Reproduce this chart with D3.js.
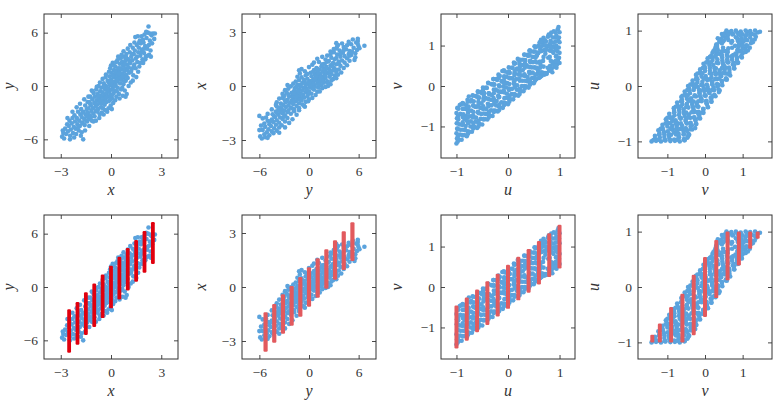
<!DOCTYPE html>
<html>
<head>
<meta charset="utf-8">
<script src="https://cdn.jsdelivr.net/npm/d3@7"></script>
<style>
  html, body { margin: 0; padding: 0; background: #fff; }
  svg { display: block; }
  svg text { font-family: "Liberation Serif", "DejaVu Serif", serif; }
</style>
</head>
<body>
<div id="chart"></div>
<script>
// scatter samples (x, y)
const xyPoints = [
  [-2.92,-5.7],[-2.85,-5.3],[-2.8,-5.9],[-2.74,-4.8],[-2.68,-5.4],[-2.62,-4.3],[-2.88,-5.0],
  [-2.57,-5.1],[-2.52,-4.5],[-2.48,-3.9],[-2.44,-5.6],[-2.4,-4.9],[-2.35,-4.2],[-2.3,-3.6],[-2.27,-5.3],[-2.22,-4.6],
  [-2.18,-3.3],[-2.15,-4.0],[-2.12,-4.8],[-2.08,-5.4],[-2.04,-3.6],[-2.0,-4.3],[-1.97,-2.9],[-1.93,-5.0],[-1.9,-3.9],[-1.86,-4.5],[-1.83,-3.2],[-1.8,-5.6],
  [-1.78,-2.6],[-1.75,-3.5],[-1.72,-4.1],[-1.69,-4.2],[-1.66,-6.0],[-1.63,-2.9],[-1.6,-3.7],[-1.57,-4.4],[-1.54,-2.2],[-1.51,-3.2],[-1.48,-3.9],[-1.45,-2.6],[-1.42,-4.0],[-1.4,-1.8],
  [-1.38,-3.0],[-1.35,-2.5],[-1.32,-3.7],[-1.29,-1.8],[-1.26,-3.3],[-1.23,-1.2],[-1.2,-2.2],[-1.17,-2.8],[-1.14,-3.9],[-1.11,-1.5],[-1.08,-2.5],[-1.05,-3.1],[-1.03,-0.8],[-1.0,-1.9],[-1.15,-0.5],
  [-0.98,-3.4],[-0.96,-1.2],[-0.93,-2.3],[-0.9,-2.8],[-0.88,-0.4],[-0.85,-1.6],[-0.82,-2.1],[-0.8,-0.9],[-0.77,-2.6],[-0.74,0.0],[-0.72,-1.4],[-0.7,-1.9],[-0.67,-3.2],[-0.65,-0.6],[-0.62,-1.1],[-0.6,-2.4],
  [-0.58,-0.2],[-0.56,-2.0],[-0.53,-1.2],[-0.5,-0.7],[-0.48,-2.5],[-0.46,-1.6],[-0.43,0.3],[-0.4,-1.0],[-0.38,-2.1],[-0.35,-0.4],[-0.33,-1.4],[-0.3,0.0],[-0.28,-1.8],[-0.25,-0.8],[-0.23,-2.9],[-0.2,0.6],[-0.44,-3.2],[-0.32,1.0],
  [-0.18,-1.2],[-0.16,-0.3],[-0.14,0.4],[-0.12,-1.7],[-0.1,-0.6],[-0.08,1.1],[-0.06,0.1],[-0.04,-1.0],[-0.02,-2.2],[0.0,0.7],[0.02,-0.4],[0.04,1.5],[0.06,-1.4],[0.08,0.3],[0.1,2.6],[0.12,-0.1],[0.14,1.0],[0.16,-0.8],[0.18,1.8],[0.2,0.5],[-0.05,2.0],[0.05,-2.6],
  [0.22,-0.5],[0.24,1.3],[0.26,2.2],[0.28,0.1],[0.3,0.9],[0.32,-1.2],[0.34,1.7],[0.36,0.5],[0.38,2.9],[0.4,-0.2],[0.42,1.2],[0.44,2.0],[0.46,0.8],[0.48,-0.9],[0.5,1.6],[0.52,2.5],[0.54,0.3],[0.56,1.1],[0.58,3.1],[0.6,-0.4],
  [0.62,1.9],[0.64,0.7],[0.66,2.7],[0.68,1.4],[0.7,-1.1],[0.72,2.3],[0.74,0.2],[0.76,1.0],[0.78,3.3],[0.8,1.7],[0.82,-0.5],[0.84,2.0],[0.86,2.9],[0.88,0.6],[0.9,1.3],[0.92,3.6],[0.94,-0.9],[0.96,2.4],[0.98,1.8],
  [1.0,0.9],[1.03,3.0],[1.06,2.1],[1.09,1.5],[1.12,3.8],[1.15,2.6],[1.18,0.4],[1.21,3.3],[1.24,1.9],[1.27,2.9],[1.3,4.3],[1.33,1.2],[1.36,3.6],[1.39,2.4],
  [1.42,4.0],[1.45,5.5],[1.48,3.1],[1.51,1.0],[1.54,4.6],[1.57,2.7],[1.6,5.6],[1.63,3.8],[1.66,4.3],[1.69,2.2],[1.72,5.1],[1.75,3.4],[1.78,4.8],
  [1.82,5.6],[1.85,4.1],[1.88,3.0],[1.91,5.2],[1.94,4.9],[1.97,3.7],[2.0,5.8],[2.04,4.5],[2.08,3.3],[2.12,5.4],[2.16,4.2],[2.2,6.0],
  [2.24,6.7],[2.28,3.5],[2.32,5.1],[2.36,4.0],[2.42,5.7],[2.5,5.9],[2.58,5.3],
  [-2.6,-3.6],[-2.45,-6.0],[-2.3,-2.9],[-2.2,-5.8],[-2.05,-2.4],[-1.95,-4.6],[-1.85,-2.0],[-1.75,-5.2],[-1.7,-3.0],[-1.6,-1.5],
  [-1.55,-5.0],[-1.45,-3.4],[-1.35,-1.2],[-1.3,-4.5],[-1.25,-2.0],[-1.2,-3.5],[-1.1,-0.6],[-1.05,-4.0],[-0.95,-1.9],[-0.9,-3.9],
  [-0.85,-0.1],[-0.8,-2.9],[-0.75,-1.1],[-0.7,-3.6],[-0.66,0.4],[-0.6,-1.6],[-0.55,-3.0],[-0.5,0.8],[-0.45,-0.1],[-0.42,-1.9],
  [-0.36,-2.7],[-0.3,1.3],[-0.27,-1.3],[-0.22,-0.3],[-0.15,-2.5],[-0.12,1.6],[-0.09,0.5],[-0.03,-1.5],[0.0,2.3],[0.03,0.2],
  [0.07,-1.0],[0.1,1.2],[0.13,-1.9],[0.17,2.3],[0.21,0.0],[0.25,-1.6],[0.27,1.6],[0.31,2.7],[0.35,-0.6],[0.39,0.7],
  [0.43,3.3],[0.47,1.4],[0.51,-1.4],[0.55,2.0],[0.59,0.9],[0.63,3.5],[0.67,-0.2],[0.71,1.1],[0.75,3.9],[0.79,0.5],
  [0.83,2.5],[0.87,-1.2],[0.91,3.2],[0.95,1.0],[1.0,4.2],[1.05,0.0],[1.1,2.8],[1.15,4.6],[1.2,1.6],[1.25,3.6],
  [1.3,0.6],[1.35,2.2],[1.4,4.9],[1.47,2.0],[1.55,3.3],[1.62,1.6],[1.68,4.9],[1.74,2.6],[1.8,3.8],[1.86,5.0],
  [1.92,2.6],[1.98,4.2],[2.05,3.0],[2.1,6.1],[2.18,3.4],[2.26,4.6],[2.33,5.9],[2.45,4.8],[2.62,5.9],[2.38,3.3]
];

// scatter samples (u, v)
const uvPoints = [
  [-1.0,-1.42],[-0.99,-1.3],[-1.0,-1.17],[-0.985,-1.05],[-0.995,-0.92],[-0.99,-0.8],[-1.0,-0.67],[-0.98,-0.54],
  [-0.95,-1.33],[-0.93,-1.2],[-0.97,-1.07],[-0.94,-0.95],[-0.965,-0.82],[-0.925,-0.69],[-0.96,-0.56],[-0.935,-0.47],
  [-0.9,-1.33],[-0.88,-1.21],[-0.92,-1.08],[-0.89,-0.96],[-0.915,-0.7],[-0.875,-0.57],[-0.91,-0.45],
  [-0.85,-1.21],[-0.83,-1.09],[-0.87,-0.95],[-0.84,-0.82],[-0.865,-0.7],[-0.825,-0.57],[-0.86,-0.44],
  [-0.8,-1.24],[-0.78,-1.12],[-0.82,-0.99],[-0.79,-0.87],[-0.815,-0.74],[-0.775,-0.61],[-0.81,-0.48],[-0.785,-0.34],
  [-0.75,-1.13],[-0.73,-1.0],[-0.77,-0.88],[-0.74,-0.75],[-0.765,-0.51],[-0.725,-0.38],[-0.76,-0.26],
  [-0.7,-1.13],[-0.68,-1.0],[-0.72,-0.87],[-0.69,-0.74],[-0.715,-0.61],[-0.675,-0.48],[-0.71,-0.35],[-0.685,-0.23],
  [-0.65,-1.01],[-0.63,-0.87],[-0.67,-0.74],[-0.64,-0.51],[-0.665,-0.38],[-0.625,-0.25],
  [-0.6,-1.04],[-0.58,-0.91],[-0.62,-0.78],[-0.59,-0.65],[-0.615,-0.52],[-0.575,-0.39],[-0.61,-0.26],[-0.585,-0.13],
  [-0.55,-0.94],[-0.53,-0.81],[-0.57,-0.67],[-0.54,-0.54],[-0.565,-0.28],[-0.525,-0.15],
  [-0.5,-0.95],[-0.48,-0.82],[-0.52,-0.69],[-0.49,-0.56],[-0.515,-0.43],[-0.475,-0.3],[-0.51,-0.17],[-0.485,-0.04],
  [-0.45,-0.82],[-0.43,-0.69],[-0.47,-0.56],[-0.44,-0.3],[-0.465,-0.17],[-0.425,-0.04],
  [-0.4,-0.83],[-0.38,-0.7],[-0.42,-0.57],[-0.39,-0.44],[-0.415,-0.31],[-0.375,-0.18],[-0.41,-0.05],[-0.385,0.08],
  [-0.35,-0.73],[-0.33,-0.6],[-0.37,-0.47],[-0.34,-0.34],[-0.365,-0.21],[-0.325,0.05],
  [-0.3,-0.74],[-0.28,-0.61],[-0.32,-0.48],[-0.29,-0.35],[-0.315,-0.22],[-0.275,-0.09],[-0.31,0.04],[-0.285,0.17],
  [-0.25,-0.61],[-0.23,-0.48],[-0.27,-0.35],[-0.24,-0.09],[-0.265,0.04],[-0.225,0.17],
  [-0.2,-0.63],[-0.18,-0.5],[-0.22,-0.37],[-0.19,-0.24],[-0.215,-0.11],[-0.175,0.02],[-0.21,0.15],[-0.185,0.28],
  [-0.15,-0.53],[-0.13,-0.4],[-0.17,-0.27],[-0.14,-0.14],[-0.165,-0.01],[-0.125,0.12],[-0.16,0.25],
  [-0.1,-0.54],[-0.08,-0.41],[-0.12,-0.15],[-0.09,-0.02],[-0.115,0.11],[-0.075,0.24],[-0.11,0.37],
  [-0.05,-0.42],[-0.03,-0.29],[-0.07,-0.16],[-0.04,-0.03],[-0.065,0.1],[-0.025,0.23],[-0.06,0.36],
  [0.0,-0.45],[0.02,-0.32],[-0.02,-0.19],[0.01,-0.06],[-0.015,0.07],[0.025,0.2],[-0.01,0.33],[0.015,0.46],
  [0.05,-0.33],[0.07,-0.2],[0.03,-0.07],[0.06,0.19],[0.035,0.32],[0.075,0.45],
  [0.1,-0.33],[0.12,-0.2],[0.08,-0.07],[0.11,0.06],[0.085,0.19],[0.125,0.32],[0.09,0.45],[0.115,0.58],
  [0.15,-0.22],[0.17,-0.09],[0.13,0.04],[0.16,0.17],[0.135,0.3],[0.175,0.43],[0.14,0.56],
  [0.2,-0.24],[0.22,-0.11],[0.18,0.02],[0.21,0.28],[0.185,0.41],[0.225,0.54],[0.19,0.67],
  [0.25,-0.13],[0.27,0.0],[0.23,0.13],[0.26,0.26],[0.235,0.39],[0.275,0.52],[0.24,0.65],
  [0.3,-0.13],[0.32,0.0],[0.28,0.13],[0.31,0.26],[0.285,0.39],[0.325,0.52],[0.29,0.65],[0.315,0.78],
  [0.35,-0.01],[0.37,0.12],[0.33,0.25],[0.36,0.51],[0.335,0.64],[0.375,0.77],
  [0.4,-0.04],[0.42,0.09],[0.38,0.22],[0.41,0.35],[0.385,0.48],[0.425,0.61],[0.39,0.74],[0.415,0.87],
  [0.45,0.07],[0.47,0.2],[0.43,0.33],[0.46,0.46],[0.435,0.59],[0.475,0.72],[0.44,0.85],
  [0.5,0.07],[0.52,0.2],[0.48,0.33],[0.51,0.46],[0.485,0.59],[0.525,0.72],[0.49,0.85],[0.515,0.98],
  [0.55,0.17],[0.57,0.3],[0.53,0.45],[0.56,0.58],[0.535,0.7],[0.575,0.83],[0.54,0.96],
  [0.6,0.2],[0.62,0.3],[0.58,0.39],[0.61,0.6],[0.585,0.81],[0.625,0.9],[0.59,1.0],[0.615,1.08],
  [0.65,0.25],[0.67,0.33],[0.63,0.53],[0.66,0.87],[0.635,0.97],[0.675,1.06],[0.64,1.14],
  [0.7,0.28],[0.72,0.32],[0.68,0.62],[0.71,0.89],[0.685,1.0],[0.725,1.1],[0.69,1.19],
  [0.75,0.32],[0.77,0.45],[0.73,0.9],[0.76,0.98],[0.735,1.1],[0.775,1.22],
  [0.8,0.38],[0.82,0.5],[0.78,0.7],[0.81,0.88],[0.785,1.0],[0.825,1.12],[0.79,1.27],
  [0.85,0.43],[0.87,0.55],[0.83,0.87],[0.86,0.97],[0.835,1.08],[0.875,1.2],[0.84,1.32],
  [0.9,0.48],[0.92,0.6],[0.88,0.82],[0.91,0.95],[0.885,1.07],[0.925,1.2],[0.89,1.35],
  [0.95,0.53],[0.97,0.65],[0.93,0.73],[0.96,0.86],[0.935,1.0],[0.975,1.12],[0.94,1.25],[0.965,1.4],
  [1.0,0.57],[0.99,0.7],[1.0,0.82],[0.985,0.95],[1.0,1.08],[0.99,1.2],[1.0,1.33],[0.98,1.46],
  [0.97,0.6],[0.94,0.75],[0.86,0.86],[0.75,0.9],[0.64,0.86],[0.56,0.75],[0.53,0.6],[0.56,0.45],
  [0.64,0.34],[0.75,0.3],[0.86,0.34],[0.94,0.45],[0.87,0.6],[0.81,0.72],[0.69,0.72],[0.63,0.6],[0.69,0.48],[0.81,0.48],
  [-0.975,-1.37],[-0.97,-1.24],[-0.98,-1.06],[-0.975,-0.92],[-0.97,-0.74],[-0.98,-0.55],
  [-0.875,-1.22],[-0.87,-1.08],[-0.88,-0.9],[-0.875,-0.77],[-0.87,-0.56],[-0.88,-0.42],
  [-0.775,-1.18],[-0.77,-0.92],[-0.78,-0.77],[-0.775,-0.66],[-0.77,-0.52],[-0.78,-0.39],
  [-0.675,-1.05],[-0.67,-0.92],[-0.68,-0.78],[-0.675,-0.64],[-0.67,-0.49],[-0.68,-0.24],
  [-0.575,-1.0],[-0.57,-0.86],[-0.58,-0.64],[-0.575,-0.47],[-0.57,-0.3],[-0.58,-0.16],
  [-0.475,-0.82],[-0.47,-0.68],[-0.48,-0.5],[-0.475,-0.36],[-0.47,-0.22],[-0.48,-0.08],
  [-0.375,-0.78],[-0.37,-0.64],[-0.38,-0.5],[-0.375,-0.32],[-0.37,-0.18],[-0.38,0.07],
  [-0.275,-0.64],[-0.27,-0.44],[-0.28,-0.3],[-0.275,-0.18],[-0.27,0.03],[-0.28,0.17],
  [-0.175,-0.6],[-0.17,-0.46],[-0.18,-0.28],[-0.175,-0.14],[-0.17,0.0],[-0.18,0.2],
  [-0.075,-0.47],[-0.07,-0.3],[-0.08,-0.12],[-0.075,0.06],[-0.07,0.2],[-0.08,0.39],
  [0.025,-0.39],[0.03,-0.24],[0.02,-0.1],[0.025,0.05],[0.03,0.19],[0.02,0.36],
  [0.125,-0.24],[0.13,-0.03],[0.12,0.12],[0.125,0.27],[0.13,0.38],[0.12,0.55],
  [0.225,-0.2],[0.23,-0.07],[0.22,0.17],[0.225,0.33],[0.23,0.47],[0.22,0.6],
  [0.325,-0.06],[0.33,0.13],[0.32,0.29],[0.325,0.45],[0.33,0.56],[0.32,0.77],
  [0.425,0.03],[0.43,0.16],[0.42,0.31],[0.425,0.47],[0.43,0.62],[0.42,0.76],[0.425,0.88],
  [0.525,0.13],[0.53,0.28],[0.52,0.85],[0.525,0.97],
  [0.625,0.22],[0.63,0.95],[0.62,1.07],[0.625,0.45],
  [0.725,0.3],[0.73,1.0],[0.72,1.13],[0.725,0.8],
  [0.825,0.4],[0.83,0.95],[0.82,1.05],[0.825,1.25],[0.83,0.62],
  [0.925,0.5],[0.93,0.9],[0.92,1.1],[0.925,1.32],[0.93,0.62]
];

// conditional ranges (red bars) for the bottom row
const barsXYc  = [-2.5,-2,-1.5,-1,-0.5,0,0.5,1,1.5,2,2.5];
const barsXYlo = [-7.4,-6.5,-5.4,-4.5,-3.5,-2.4,-1.4,-0.4,0.6,1.6,2.6];
const barsXYhi = [-2.5,-1.7,-0.6,0.4,1.4,2.4,3.4,4.4,5.3,6.3,7.3];

const barsYXc  = [-5.25,-4.2,-3.15,-2.1,-1.05,0,1.05,2.1,3.15,4.2,5.25];
const barsYXlo = [-3.6,-3.1,-2.6,-2.15,-1.65,-1.1,-0.6,-0.1,0.4,0.95,1.45];
const barsYXhi = [-1.4,-0.95,-0.4,0.05,0.55,1.1,1.6,2.1,2.6,3.1,3.6];

const barsUVc  = [-1,-0.8,-0.6,-0.4,-0.2,0,0.2,0.4,0.6,0.8,1];
const barsUVlo = [-1.52,-1.33,-1.12,-0.94,-0.73,-0.54,-0.33,-0.14,0.06,0.25,0.46];
const barsUVhi = [-0.46,-0.26,-0.06,0.14,0.33,0.55,0.75,0.94,1.14,1.33,1.54];

const barsVUc  = [-1.4,-1.2,-0.9,-0.6,-0.3,0,0.3,0.6,0.9,1.2,1.4];
const barsVUlo = [-1,-1,-1,-1,-0.87,-0.54,-0.2,0.12,0.39,0.69,0.87];
const barsVUhi = [-0.86,-0.66,-0.36,-0.12,0.22,0.54,0.85,1,1,1,1];

// axis domains and ticks per variable
const xDomain = [-4, 4],       xTicks = [-3, 0, 3];
const yDomain = [-8.1, 8.1],   yTicks = [-6, 0, 6];
const uDomain = [-1.3, 1.3],   uTicks = [-1, 0, 1];
const vDomain = [-1.78, 1.78], vTicks = [-1, 0, 1];

const vars = {
  x: {domain: xDomain, ticks: xTicks},
  y: {domain: yDomain, ticks: yTicks},
  u: {domain: uDomain, ticks: uTicks},
  v: {domain: vDomain, ticks: vTicks}
};

const blue = '#5ba3dd';
const W = 780, H = 405;
const colLeft = [44, 242, 441, 638], rowTop = [14, 215];
const yLabelShift = [-30, -36, -39, -39];
const pw = 134, ph = 144;
const serif = '"Liberation Serif", "DejaVu Serif", serif';
const fmt = d => d < 0 ? '\u2212' + Math.abs(d) : String(d);

const panels = [
  {row:0, col:0, data:xyPoints, xi:0, yi:1, xv:'x', yv:'y'},
  {row:0, col:1, data:xyPoints, xi:1, yi:0, xv:'y', yv:'x'},
  {row:0, col:2, data:uvPoints, xi:0, yi:1, xv:'u', yv:'v'},
  {row:0, col:3, data:uvPoints, xi:1, yi:0, xv:'v', yv:'u'},
  {row:1, col:0, data:xyPoints, xi:0, yi:1, xv:'x', yv:'y', bars:[barsXYc, barsXYlo, barsXYhi], red:'#e0000e', bw:3.8},
  {row:1, col:1, data:xyPoints, xi:1, yi:0, xv:'y', yv:'x', bars:[barsYXc, barsYXlo, barsYXhi], red:'#e25a5e', bw:4.2},
  {row:1, col:2, data:uvPoints, xi:0, yi:1, xv:'u', yv:'v', bars:[barsUVc, barsUVlo, barsUVhi], red:'#e25a5e', bw:4},
  {row:1, col:3, data:uvPoints, xi:1, yi:0, xv:'v', yv:'u', bars:[barsVUc, barsVUlo, barsVUhi], red:'#e25a5e', bw:4}
];

const svg = d3.select('#chart').append('svg').attr('width', W).attr('height', H);

function drawPanel(p){
  const left = colLeft[p.col], top = rowTop[p.row];
  const xs = d3.scaleLinear().domain(vars[p.xv].domain).range([0, pw]);
  const ys = d3.scaleLinear().domain(vars[p.yv].domain).range([ph, 0]);
  const g = svg.append('g').attr('transform', `translate(${left},${top})`);

  g.append('g').selectAll('circle').data(p.data).join('circle')
    .attr('cx', d => xs(d[p.xi])).attr('cy', d => ys(d[p.yi]))
    .attr('r', 2.3).attr('fill', blue);

  if (p.bars){
    const [c, lo, hi] = p.bars;
    g.append('g').selectAll('rect').data(c.map((v, i) => ({c: v, lo: lo[i], hi: hi[i]}))).join('rect')
      .attr('x', d => xs(d.c) - p.bw/2).attr('width', p.bw)
      .attr('y', d => ys(d.hi)).attr('height', d => ys(d.lo) - ys(d.hi))
      .attr('rx', 1.2).attr('fill', p.red);
  }

  g.append('rect').attr('width', pw).attr('height', ph)
    .attr('fill', 'none').attr('stroke', '#333').attr('stroke-width', 1);

  const styleAxis = a => {
    a.select('.domain').remove();
    a.attr('color', '#333').attr('font-size', 13.5).style('font-family', serif);
    a.selectAll('line').attr('stroke-width', 0.9);
  };
  const xt = vars[p.xv].ticks, yt = vars[p.yv].ticks;
  g.append('g').attr('transform', `translate(0,${ph})`)
    .call(d3.axisBottom(xs).tickValues(xt).tickFormat(fmt).tickSize(-4).tickSizeOuter(0).tickPadding(8.5)).call(styleAxis);
  g.append('g')
    .call(d3.axisTop(xs).tickValues(xt).tickFormat('').tickSize(-4).tickSizeOuter(0)).call(styleAxis);
  g.append('g')
    .call(d3.axisLeft(ys).tickValues(yt).tickFormat(fmt).tickSize(-4).tickSizeOuter(0).tickPadding(6)).call(styleAxis);
  g.append('g').attr('transform', `translate(${pw},0)`)
    .call(d3.axisRight(ys).tickValues(yt).tickFormat('').tickSize(-4).tickSizeOuter(0)).call(styleAxis);

  g.append('text').attr('x', pw/2).attr('y', ph + 37).attr('text-anchor', 'middle')
    .style('font-family', serif).attr('font-style', 'italic').attr('font-size', 16).attr('fill', '#333')
    .text(p.xv);
  g.append('text').attr('transform', `translate(${yLabelShift[p.col]},${ph/2}) rotate(-90)`).attr('text-anchor', 'middle')
    .style('font-family', serif).attr('font-style', 'italic').attr('font-size', 16).attr('fill', '#333')
    .text(p.yv);
}

panels.forEach(drawPanel);
</script>
</body>
</html>
